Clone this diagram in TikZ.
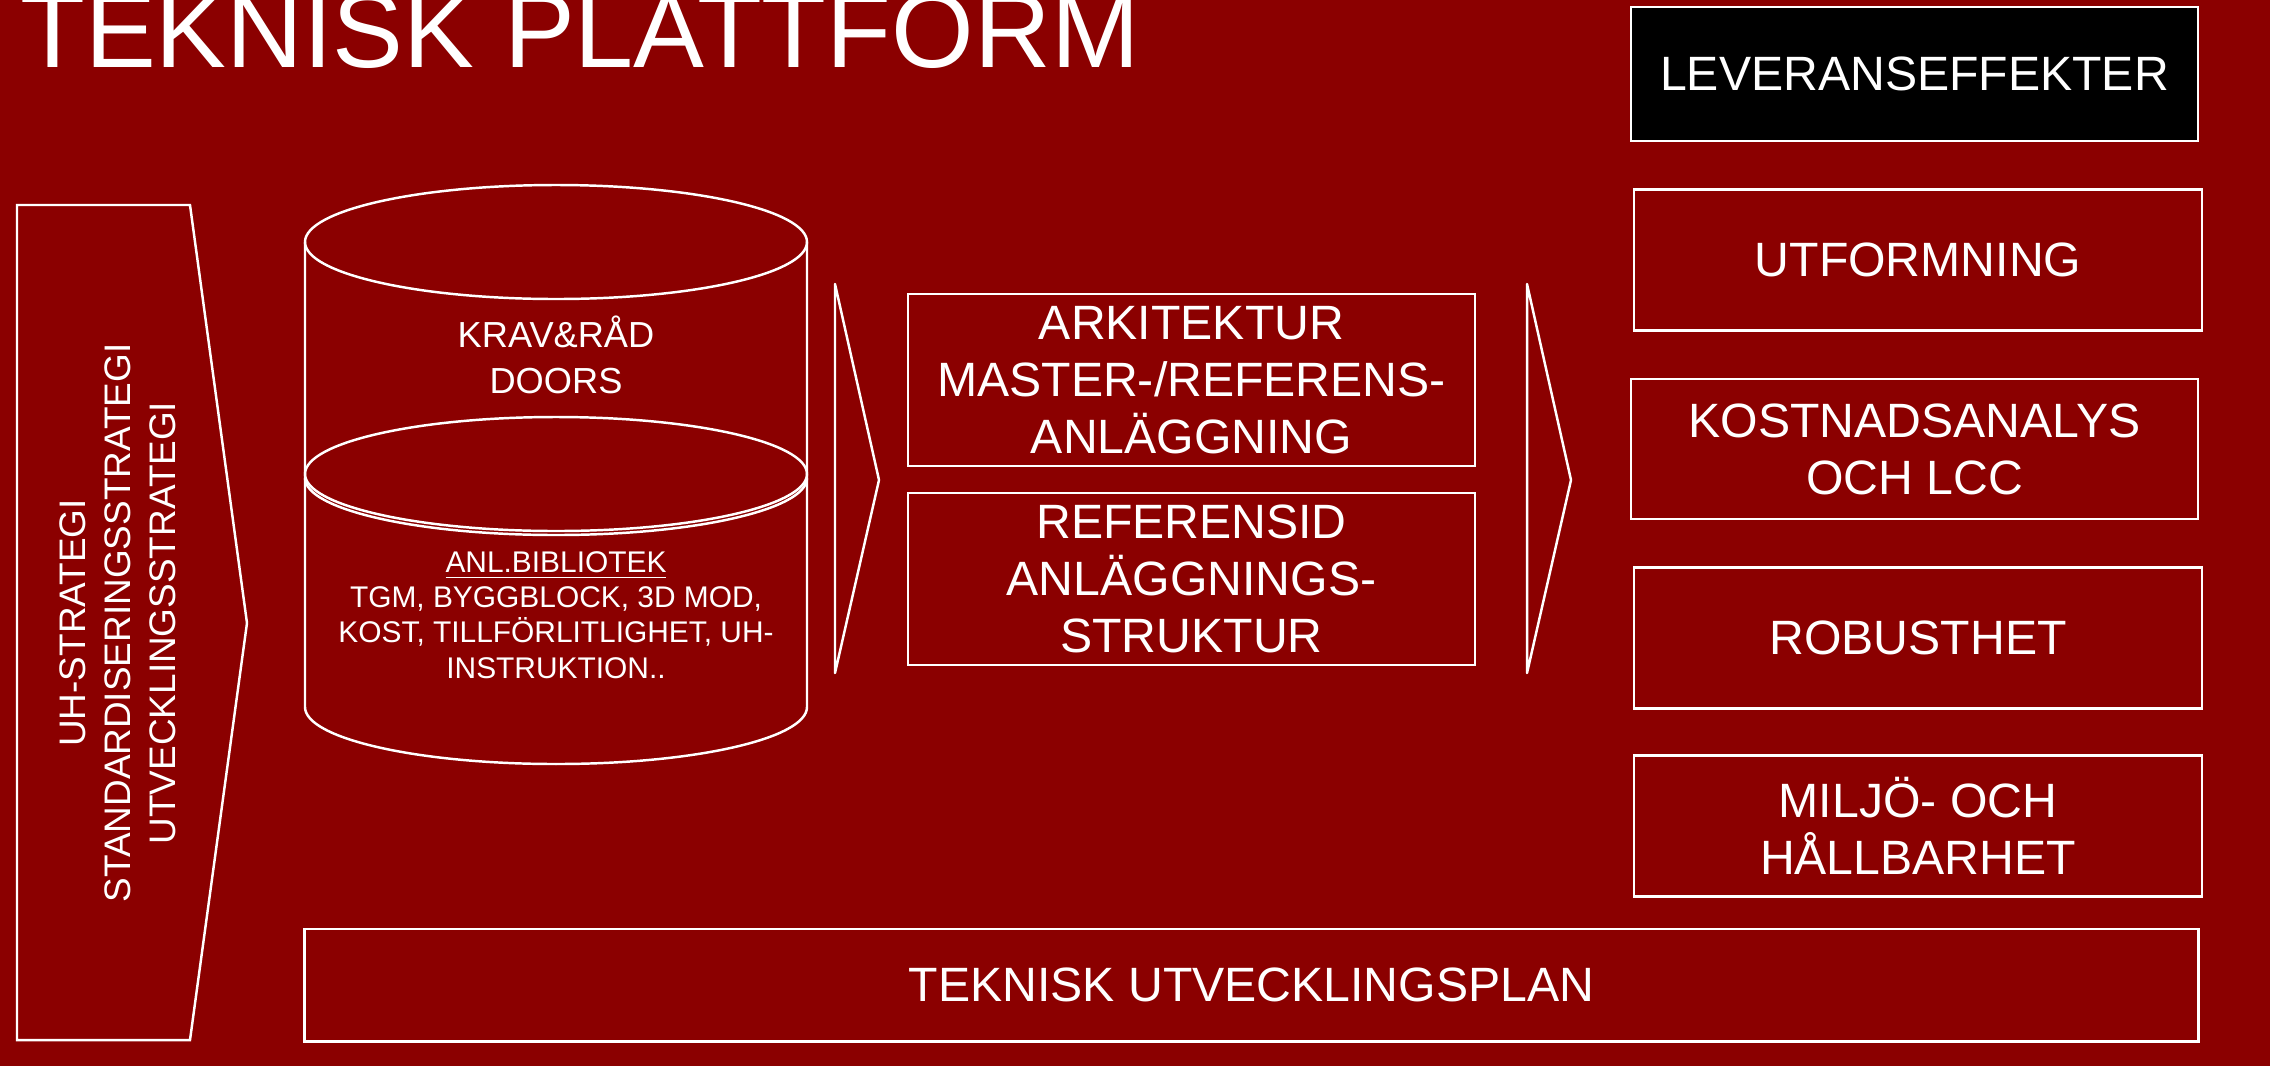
\documentclass[tikz,border=0pt]{standalone}
\usepackage{fontspec}
\setmainfont{Liberation Sans}
\definecolor{bgred}{RGB}{139,0,0}
\begin{document}
\begin{tikzpicture}[x=0.01cm, y=-0.01cm, line width=0.7pt,
  lbl/.style={text=white, inner sep=0pt, align=center},
  box/.style={draw=white, text=white, inner sep=0pt, outer sep=0pt, align=center, font=\fontsize{13.7}{16.2}\selectfont}]
\fill[bgred] (0,0) rectangle (2270,1066);
\useasboundingbox (0,0) rectangle (2270,1066);
\node[lbl, anchor=base west, font=\fontsize{30.2}{31}\selectfont] (title) at (19,67) {TEKNISK PLATTFORM};
\draw[white] (17,205) -- (190,205) -- (247,623) -- (190,1040) -- (17,1040) -- cycle;
\node[lbl, rotate=90, font=\fontsize{10.5}{12.75}\selectfont] (strat) at (118,623) {UH-STRATEGI\\STANDARDISERINGSSTRATEGI\\UTVECKLINGSSTRATEGI};
\draw[white] (556,242) ellipse [x radius=251, y radius=57];
\draw[white] (305,242) -- (305,707) arc [start angle=180, end angle=0, x radius=251, y radius=57] -- (807,242);
\draw[white] (556,474) ellipse [x radius=251, y radius=57];
\draw[white] (305,478) arc [start angle=180, end angle=0, x radius=251, y radius=57];
\node[lbl, font=\fontsize{10.3}{13.1}\selectfont] (krav) at (556,355) {KRAV\&RÅD\\DOORS};
\node[lbl, font=\fontsize{8.5}{10}\selectfont] (bibl) at (556,615) {\underline{ANL.BIBLIOTEK}\\TGM, BYGGBLOCK, 3D MOD,\\KOST, TILLFÖRLITLIGHET, UH-\\INSTRUKTION..};
\draw[white, line join=round] (835,284) -- (879,480) -- (835,673) -- cycle;
\draw[white, line join=round] (1527,284) -- (1571,480) -- (1527,673) -- cycle;
\node[box, minimum width=5.67cm, minimum height=1.72cm] (arch) at (1191.5,380) {ARKITEKTUR\\MASTER-/REFERENS-\\ANLÄGGNING};
\node[box, minimum width=5.67cm, minimum height=1.715cm] (refid) at (1191.5,579) {REFERENSID\\ANLÄGGNINGS-\\STRUKTUR};
\node[box, fill=black, minimum width=5.67cm, minimum height=1.34cm] (effect) at (1914.5,74) {LEVERANSEFFEKTER};
\node[box, minimum width=5.68cm, minimum height=1.41cm] (design) at (1918,260) {UTFORMNING};
\node[box, minimum width=5.67cm, minimum height=1.40cm] (cost) at (1914.5,449) {KOSTNADSANALYS\\OCH LCC};
\node[box, minimum width=5.68cm, minimum height=1.405cm] (robust) at (1918,638) {ROBUSTHET};
\node[box, minimum width=5.68cm, minimum height=1.405cm] (enviro) at (1918,826) {MILJÖ- OCH\\HÅLLBARHET};
\node[box, minimum width=18.93cm, minimum height=1.125cm] (plan) at (1251.5,985) {TEKNISK UTVECKLINGSPLAN};
\end{tikzpicture}
\end{document}
